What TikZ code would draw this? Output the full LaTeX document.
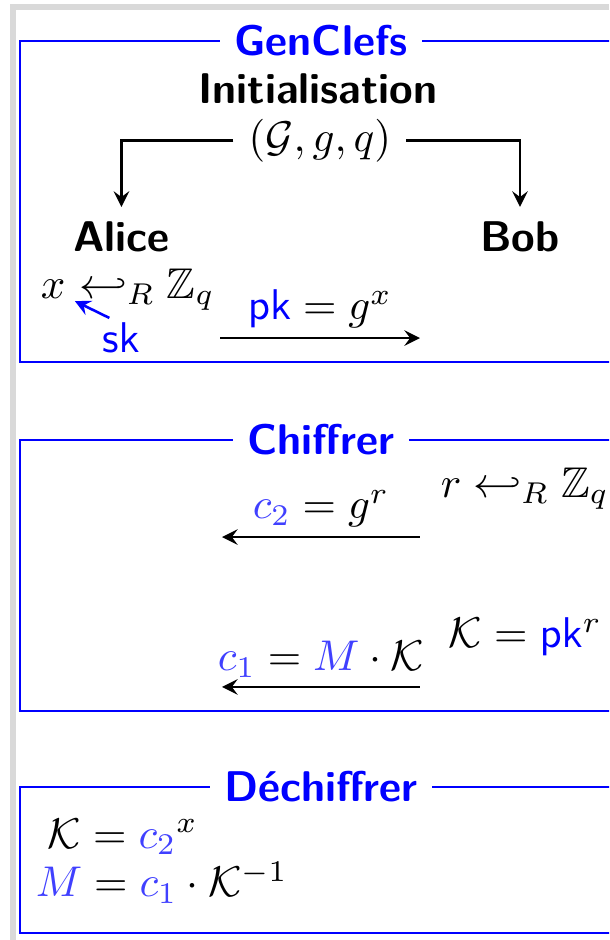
\documentclass[tikz,border=0pt]{standalone}
\usepackage{amsmath}
\usepackage{amssymb}
\usepackage{tikz}
\colorlet{varblue}{blue!75}
\tikzset{
	phase/.style={draw=blue, line width=0.6pt},
	phasetitle/.style={fill=white, text=blue, font=\sffamily\bfseries},
	party/.style={font=\sffamily\bfseries},
	msg/.style={semithick, -stealth},
	msglabel/.style={above, inner sep=2pt},
	onbase/.style={anchor=base west, inner sep=0pt}
}

\begin{document}
\begin{tikzpicture}
			\useasboundingbox (0,0) rectangle (4.98,-7.686);
			\clip (0,0) rectangle (4.98,-7.686);
			\draw[gray!30, line width=1.2pt] (0.106,-7.686) |- (4.98,-0.057);
			\draw[phase] (5.2,-0.335) -| (0.1635,-2.96) -- (5.2,-2.96);
			\draw[phase] (5.2,-3.598) -| (0.1635,-5.814) -- (5.2,-5.814);
			\draw[phase] (5.2,-6.435) -| (0.1635,-7.629) -- (5.2,-7.629);
			\node[phasetitle] (gen) at (2.625,-0.335) {GenClefs};
			\node[phasetitle] (enc) at (2.625,-3.598) {Chiffrer};
			\node[phasetitle] (dec) at (2.625,-6.435) {Déchiffrer};
			\node[party, anchor=base] (init) at (2.6,-0.85) {Initialisation};
			\node[anchor=base] (param) at (2.616,-1.235) {$(\mathcal{G},g,q)$};
			\node[party, anchor=base] (alice) at (0.993,-2.06) {Alice};
			\node[party, anchor=base] (bob) at (4.252,-2.06) {Bob};
			\draw[semithick, -stealth] (param.west) -| (alice.north);
			\draw[semithick, -stealth] (param.east) -| (bob.north);
			\node[onbase] (xvar) at (0.327,-2.437) {$x$};
			\node[onbase] (xdraw) at (xvar.base east) {$\;\hookleftarrow_R \mathbb{Z}_q$};
			\node[anchor=base, text=blue, inner sep=1pt] (sk) at (0.989,-2.886) {$\mathsf{sk}$};
			\draw[blue, semithick, -stealth] (sk.120) -- ([xshift=2pt,yshift=-0.5pt]xvar.south east);
			\coordinate (pkfrom) at (1.799,-2.764);
			\coordinate (pkto) at (3.434,-2.764);
			\draw[msg] (pkfrom) -- node[msglabel] (pk) {$\textcolor{blue}{\mathsf{pk}} = g^x$} (pkto);
			\node[onbase] (rdraw) at (3.598,-4.064) {$r \hookleftarrow_R \mathbb{Z}_q$};
			\coordinate (c2from) at (3.434,-4.391);
			\coordinate (c2to) at (1.815,-4.391);
			\draw[msg] (c2from) -- node[msglabel] (c2) {$\textcolor{varblue}{c_2} = g^r$} (c2to);
			\node[onbase] (key) at (3.663,-5.298) {$\mathcal{K} = \textcolor{blue}{\mathsf{pk}}^r$};
			\coordinate (c1from) at (3.434,-5.617);
			\coordinate (c1to) at (1.815,-5.617);
			\draw[msg] (c1from) -- node[msglabel] (c1) {$\textcolor{varblue}{c_1} = \textcolor{varblue}{M} \cdot \mathcal{K}$} (c1to);
			\node[onbase] (keyback) at (0.384,-6.934) {$\mathcal{K} = {\textcolor{varblue}{c_2}}^x$};
			\node[onbase] (msgback) at (0.286,-7.334) {$\textcolor{varblue}{M} = \textcolor{varblue}{c_1} \cdot \mathcal{K}^{-1}$};
		\end{tikzpicture}
\end{document}
